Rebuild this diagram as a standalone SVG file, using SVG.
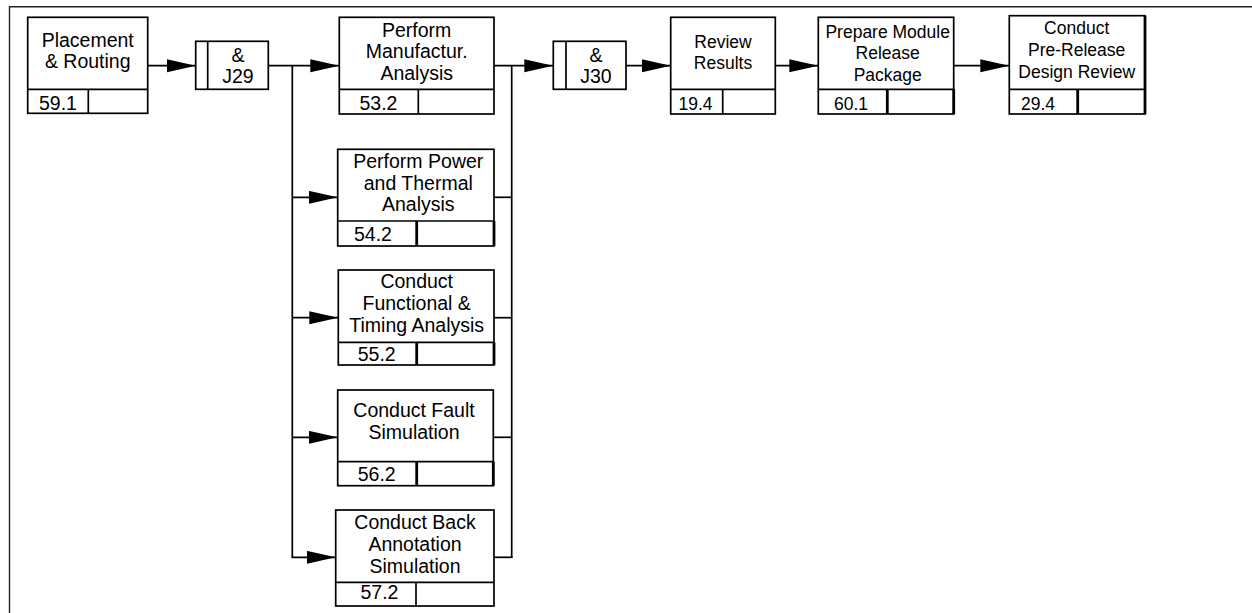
<svg xmlns="http://www.w3.org/2000/svg" width="1252" height="613" viewBox="0 0 1252 613">
<defs>
<style>
.frame{fill:none;stroke:#222;stroke-width:1.4}
.box{fill:#fff;stroke:#000;stroke-width:1.7}
.ln{fill:none;stroke:#000;stroke-width:1.7}
.thk{fill:none;stroke:#000;stroke-width:2.8}
.con{fill:none;stroke:#000;stroke-width:1.7}
text{font-family:"Liberation Sans",Arial,Helvetica,sans-serif;font-size:19.5px;fill:#000;text-anchor:middle}
.n{font-size:17.5px}
</style>
<marker id="ah" markerUnits="userSpaceOnUse" markerWidth="30" markerHeight="14" refX="29" refY="6.5" orient="auto">
<path d="M0,0 L29,6.5 L0,13 Z" fill="#000"/>
</marker>
</defs>
<rect width="1252" height="613" fill="#fff"/>
<path class="frame" d="M9.5,613 V6.7 H1252"/>

<g id="connectors">
<line class="con" x1="147.7" y1="65.7" x2="195.7" y2="65.7" marker-end="url(#ah)"/>
<line class="con" x1="268.3" y1="65.7" x2="339.3" y2="65.7" marker-end="url(#ah)"/>
<line class="con" x1="292.3" y1="65.7" x2="292.3" y2="557.3"/>
<line class="con" x1="292.3" y1="197.3" x2="337.7" y2="197.3" marker-end="url(#ah)"/>
<line class="con" x1="292.3" y1="317.7" x2="338.3" y2="317.7" marker-end="url(#ah)"/>
<line class="con" x1="292.3" y1="437.3" x2="337.7" y2="437.3" marker-end="url(#ah)"/>
<line class="con" x1="291.5" y1="557.3" x2="335.7" y2="557.3" marker-end="url(#ah)"/>
<line class="con" x1="494" y1="65.7" x2="553.3" y2="65.7" marker-end="url(#ah)"/>
<line class="con" x1="511.7" y1="65.7" x2="511.7" y2="558.1"/>
<line class="con" x1="494" y1="197.3" x2="511.7" y2="197.3"/>
<line class="con" x1="494" y1="317.7" x2="511.7" y2="317.7"/>
<line class="con" x1="493.3" y1="437.3" x2="511.7" y2="437.3"/>
<line class="con" x1="494" y1="557.3" x2="512.5" y2="557.3"/>
<line class="con" x1="626" y1="65.7" x2="670.7" y2="65.7" marker-end="url(#ah)"/>
<line class="con" x1="775.3" y1="65.7" x2="818.3" y2="65.7" marker-end="url(#ah)"/>
<line class="con" x1="953.7" y1="65.7" x2="1009.3" y2="65.7" marker-end="url(#ah)"/>
</g>

<g id="n_placement">
<rect class="box" x="27.7" y="17.3" width="120" height="96"/>
<line class="ln" x1="27.7" y1="89.3" x2="147.7" y2="89.3"/>
<line class="ln" x1="88.3" y1="89.3" x2="88.3" y2="113.3"/>
<text x="87.7" y="46.7">Placement</text>
<text x="87.7" y="68.3">&amp; Routing</text>
<text x="58" y="110">59.1</text>
</g>

<g id="n_j29">
<rect class="box" x="195.7" y="41.3" width="72.6" height="48"/>
<line class="ln" x1="207.7" y1="41.3" x2="207.7" y2="89.3"/>
<text x="238" y="61.7">&amp;</text>
<text x="238" y="82.7">J29</text>
</g>

<g id="n_manuf">
<rect class="box" x="339.3" y="17.3" width="154.7" height="96.7"/>
<line class="ln" x1="339.3" y1="89.3" x2="494" y2="89.3"/>
<line class="ln" x1="418.3" y1="89.3" x2="418.3" y2="114"/>
<text x="416.7" y="36.7">Perform</text>
<text x="416.7" y="58.3">Manufactur.</text>
<text x="416.7" y="80">Analysis</text>
<text x="378.5" y="110">53.2</text>
</g>

<g id="n_j30">
<rect class="box" x="553.3" y="41.3" width="72.7" height="48"/>
<line class="ln" x1="566" y1="41.3" x2="566" y2="89.3"/>
<text x="596" y="61.7">&amp;</text>
<text x="596" y="82.7">J30</text>
</g>

<g id="n_review">
<rect class="box" x="670.7" y="17.3" width="104.6" height="96.7"/>
<line class="ln" x1="670.7" y1="89.3" x2="775.3" y2="89.3"/>
<line class="ln" x1="722.7" y1="89.3" x2="722.7" y2="114"/>
<text class="n" x="723" y="47.5">Review</text>
<text class="n" x="723" y="68.5">Results</text>
<text class="n" x="695.5" y="110">19.4</text>
</g>

<g id="n_prepare">
<rect class="box" x="818.3" y="17.3" width="135.4" height="96.7"/>
<line class="ln" x1="818.3" y1="89.3" x2="953.7" y2="89.3"/>
<line class="thk" x1="887.3" y1="89.3" x2="887.3" y2="114"/>
<line class="thk" x1="953.7" y1="89.3" x2="953.7" y2="114"/>
<text class="n" x="887.7" y="37.5">Prepare Module</text>
<text class="n" x="887.7" y="59">Release</text>
<text class="n" x="887.7" y="80.5">Package</text>
<text class="n" x="851" y="110">60.1</text>
</g>

<g id="n_prdr">
<rect class="box" x="1009.3" y="15.7" width="135.7" height="98.3"/>
<line class="ln" x1="1009.3" y1="89.3" x2="1145" y2="89.3"/>
<line class="thk" x1="1077.7" y1="89.3" x2="1077.7" y2="114"/>
<line class="thk" x1="1145" y1="15.7" x2="1145" y2="114"/>
<text class="n" x="1076.7" y="34.3">Conduct</text>
<text class="n" x="1076.7" y="56.3">Pre-Release</text>
<text class="n" x="1076.7" y="78.3">Design Review</text>
<text class="n" x="1038" y="110">29.4</text>
</g>

<g id="n_power">
<rect class="box" x="337.7" y="149.3" width="156.3" height="96.7"/>
<line class="ln" x1="337.7" y1="221" x2="494" y2="221"/>
<line class="thk" x1="416.7" y1="221" x2="416.7" y2="246"/>
<line class="thk" x1="494" y1="221" x2="494" y2="246"/>
<text x="418.3" y="167.7">Perform Power</text>
<text x="418.3" y="189.5">and Thermal</text>
<text x="418.3" y="211.3">Analysis</text>
<text x="373" y="240.7">54.2</text>
</g>

<g id="n_functional">
<rect class="box" x="338.3" y="270" width="155.7" height="95"/>
<line class="ln" x1="338.3" y1="342.3" x2="494" y2="342.3"/>
<line class="thk" x1="416.7" y1="342.3" x2="416.7" y2="365"/>
<line class="thk" x1="494" y1="342.3" x2="494" y2="365"/>
<text x="416.7" y="288.3">Conduct</text>
<text x="416.7" y="310">Functional &amp;</text>
<text x="416.7" y="331.7">Timing Analysis</text>
<text x="376.7" y="360.7">55.2</text>
</g>

<g id="n_fault">
<rect class="box" x="337.7" y="390" width="155.6" height="95.7"/>
<line class="ln" x1="337.7" y1="461.7" x2="493.3" y2="461.7"/>
<line class="thk" x1="416.7" y1="461.7" x2="416.7" y2="485.7"/>
<line class="thk" x1="493.3" y1="461.7" x2="493.3" y2="485.7"/>
<text x="414" y="417.3">Conduct Fault</text>
<text x="414" y="438.5">Simulation</text>
<text x="376.7" y="480.7">56.2</text>
</g>

<g id="n_back">
<rect class="box" x="335.7" y="510" width="158.3" height="96"/>
<line class="ln" x1="335.7" y1="582.3" x2="494" y2="582.3"/>
<line class="ln" x1="416" y1="582.3" x2="416" y2="606"/>
<text x="415" y="529.3">Conduct Back</text>
<text x="415" y="551.3">Annotation</text>
<text x="415" y="572.9">Simulation</text>
<text x="379.5" y="599.3">57.2</text>
</g>
</svg>
